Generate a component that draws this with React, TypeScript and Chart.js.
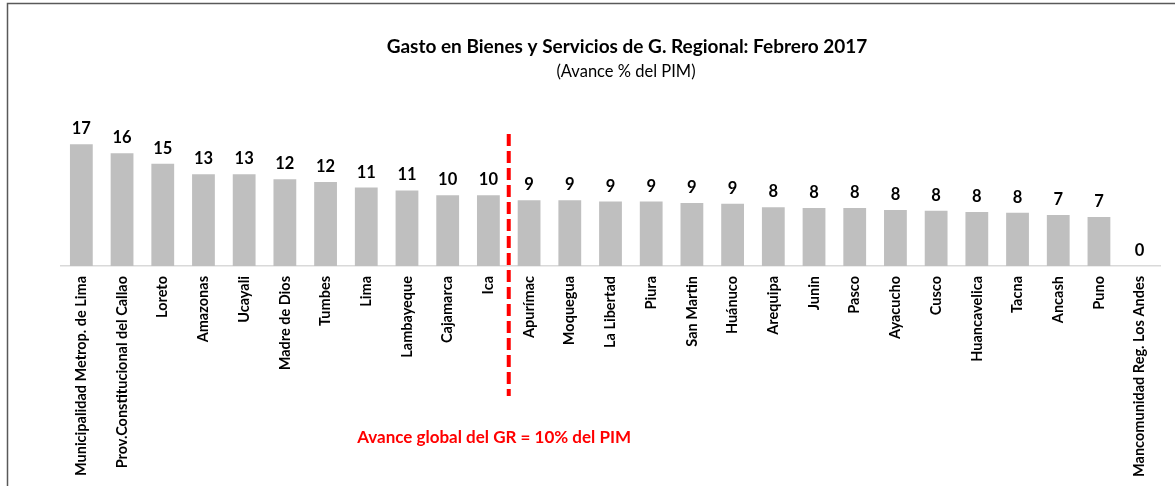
import React, { useEffect, useRef } from "react";
import { Chart, registerables } from "chart.js";

Chart.register(...registerables);

const categories: string[] = [
  "Municipalidad Metrop. de Lima",
  "Prov.Constitucional del Callao",
  "Loreto",
  "Amazonas",
  "Ucayali",
  "Madre de Dios",
  "Tumbes",
  "Lima",
  "Lambayeque",
  "Cajamarca",
  "Ica",
  "Apurímac",
  "Moquegua",
  "La Libertad",
  "Piura",
  "San Martin",
  "Huánuco",
  "Arequipa",
  "Junin",
  "Pasco",
  "Ayacucho",
  "Cusco",
  "Huancavelica",
  "Tacna",
  "Ancash",
  "Puno",
  "Mancomunidad Reg. Los Andes",
];

const avance: number[] = [
  17.4, 16.1, 14.6, 13.1, 13.1, 12.4, 12.0, 11.2, 10.8, 10.1, 10.1, 9.4, 9.4,
  9.2, 9.2, 9.0, 8.9, 8.4, 8.3, 8.3, 8.0, 7.9, 7.7, 7.6, 7.3, 7.0, 0,
];

const titleText = "Gasto en Bienes y Servicios de G. Regional: Febrero 2017";
const subtitleText = "(Avance % del PIM)";
const noteText = "Avance global del GR = 10% del PIM";
const splitAfterIndex = 10; // dashed line between Ica and Apurímac

const FONT = "Lato, 'Open Sans', sans-serif";

const overlayPlugin = {
  id: "overlay",
  afterDatasetsDraw(chart: any) {
    const ctx = chart.ctx as CanvasRenderingContext2D;
    const xs = chart.scales.x;
    const area = chart.chartArea;
    ctx.save();

    // frame lines (top & left)
    ctx.strokeStyle = "#595959";
    ctx.lineWidth = 1.5;
    ctx.beginPath();
    ctx.moveTo(7.5, chart.height);
    ctx.lineTo(7.5, 3.5);
    ctx.lineTo(chart.width, 3.5);
    ctx.stroke();

    // value labels
    ctx.fillStyle = "#000";
    ctx.font = `bold 16.5px ${FONT}`;
    ctx.textAlign = "center";
    ctx.textBaseline = "bottom";
    const meta = chart.getDatasetMeta(0);
    meta.data.forEach((bar: any, i: number) => {
      ctx.fillText(String(Math.round(avance[i])), bar.x, bar.y - 7);
    });

    // dashed split line
    const xLine =
      (xs.getPixelForValue(splitAfterIndex) +
        xs.getPixelForValue(splitAfterIndex + 1)) /
      2;
    ctx.strokeStyle = "#ff0000";
    ctx.lineWidth = 4;
    ctx.setLineDash([12, 5]);
    ctx.beginPath();
    ctx.moveTo(xLine, area.top + 8);
    ctx.lineTo(xLine, area.bottom + 130);
    ctx.stroke();
    ctx.setLineDash([]);

    // note
    ctx.fillStyle = "#ff0000";
    ctx.font = `bold 17px ${FONT}`;
    ctx.textBaseline = "middle";
    ctx.textAlign = "center";
    ctx.fillText(noteText, xs.getPixelForValue(10.14), area.bottom + 172);

    // titles
    ctx.fillStyle = "#000";
    ctx.font = `bold 19px ${FONT}`;
    ctx.fillText(titleText, 627, 47);
    ctx.font = `16.5px ${FONT}`;
    ctx.fillText(subtitleText, 626, 72);

    ctx.restore();
  },
};

export default function App() {
  const canvasRef = useRef<HTMLCanvasElement | null>(null);

  useEffect(() => {
    if (!canvasRef.current) return;
    const chart = new Chart(canvasRef.current, {
      type: "bar",
      data: {
        labels: categories,
        datasets: [
          {
            data: avance,
            backgroundColor: "#bfbfbf",
            borderWidth: 0,
            categoryPercentage: 1,
            barPercentage: 0.56,
          },
        ],
      },
      options: {
        responsive: false,
        animation: false,
        devicePixelRatio: 1,
        layout: { padding: { top: 126, left: 61, right: 15, bottom: 0 } },
        plugins: {
          legend: { display: false },
          title: { display: false },
          tooltip: { enabled: false },
        },
        scales: {
          y: { display: false, min: 0, max: 20 },
          x: {
            offset: true,
            grid: { display: false, drawTicks: false },
            border: { display: true, color: "#d9d9d9", width: 1.5 },
            ticks: {
              autoSkip: false,
              maxRotation: 90,
              minRotation: 90,
              padding: 10,
              color: "#000",
              font: { family: FONT, size: 14.5, weight: "bold" },
            },
            afterFit: (s: any) => {
              s.height = 220;
            },
          },
        },
      },
      plugins: [overlayPlugin],
    });
    return () => chart.destroy();
  }, []);

  return (
    <div
      style={{
        position: "absolute",
        left: 0,
        top: 0,
        width: 1175,
        height: 486,
        background: "#fff",
      }}
    >
      <canvas ref={canvasRef} width={1175} height={486} />
    </div>
  );
}
